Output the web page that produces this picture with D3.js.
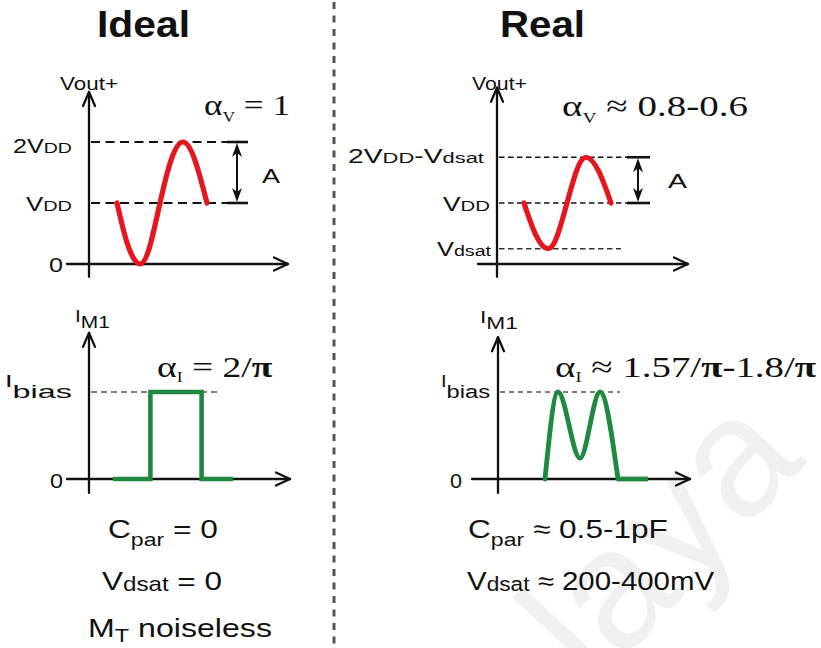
<!DOCTYPE html>
<html>
<head>
<meta charset="utf-8">
<script src="https://cdn.jsdelivr.net/npm/d3@7"></script>
<style>
  html, body { margin: 0; padding: 0; background: #fff; }
  svg text { white-space: pre; }
</style>
</head>
<body>
<svg id="chart" width="821" height="648"></svg>
<script>
// ---- data (voltages in units of VDD, Vdsat taken as 0.25 VDD; time in arbitrary units) ----
const idealVoutT = [1.4, 1.95, 2.55, 3.05, 3.55, 4.1, 4.7, 5.3, 5.9];
const idealVout  = [1, 0.3, 0, 0.3, 1, 1.7, 2, 1.7, 1];
const realVoutT  = [1.35, 1.95, 2.55, 3.02, 3.5, 3.98, 4.45, 5.07, 5.7];
const realVout   = [1, 0.47, 0.25, 0.47, 1, 1.53, 1.75, 1.53, 1];

// drain current of M1, in units of Ibias
const idealIT = [1.2, 3.07, 3.07, 5.63, 5.63, 7.2];
const idealI  = [0, 0, 1, 1, 0, 0];
const realIT  = [2.35, 3.0, 4.1, 5.1, 6.0];
const realI   = [0, 1, 0.24, 1, 0];
const realITailT = [6.0, 7.5];
const realITail  = [0, 0];

// tick values and labels
const idealVTicks  = [0, 1, 2];
const idealVLabels = ["0", "V_{DD}", "2V_{DD}"];
const realVTicks   = [0.25, 1, 1.75];
const realVLabels  = ["V_{dsat}", "V_{DD}", "2V_{DD}-V_{dsat}"];
const currentTicks  = [0, 1];
const idealILabels  = ["0", "I_{bias}"];
const realILabels   = ["0", "I_{bias}"];

// annotation texts
const titles = ["Ideal", "Real"];
const alphaV = ["α_{V} = 1", "α_{V} ≈ 0.8-0.6"];
const alphaI = ["α_{I} = 2/π", "α_{I} ≈ 1.57/π-1.8/π"];
const idealNotes = ["C_{par} = 0", "V_{dsat} = 0", "M_{T} noiseless"];
const realNotes  = ["C_{par} ≈ 0.5-1pF", "V_{dsat} ≈ 200-400mV"];

// ---- drawing ----
const SANS = "'Liberation Sans', Arial, Helvetica, sans-serif";
const SERIF = "'Liberation Serif', 'Times New Roman', serif";
const INK = "#111";
const RED = "#e5161d";
const GREEN = "#1f8a3f";

const svg = d3.select("#chart");

// faint watermark behind everything
svg.append("text")
  .attr("transform", "translate(595,690) rotate(-47)")
  .attr("font-family", SANS)
  .attr("font-size", 170)
  .attr("fill", "#f0f0f0")
  .text("laya");

// rich text: "_{...}" marks a smaller (optionally shifted) part; π is drawn bold.
// The label is fitted horizontally to width o.w.
function richText(parent, str, o) {
  const g = parent.append("g");
  const t = g.append("text")
    .attr("font-family", o.family || SANS)
    .attr("font-size", o.size)
    .attr("font-weight", o.weight || "normal")
    .attr("fill", o.fill || INK);
  const pieces = [];
  const re = /_\{([^}]*)\}/g;
  let last = 0, m;
  while ((m = re.exec(str))) {
    if (m.index > last) pieces.push({ t: str.slice(last, m.index), sub: false });
    pieces.push({ t: m[1], sub: true });
    last = re.lastIndex;
  }
  if (last < str.length) pieces.push({ t: str.slice(last), sub: false });
  let cur = 0;
  pieces.forEach(p => {
    p.t.split(/(π)/).filter(s => s.length).forEach(c => {
      const target = p.sub ? (o.subDy || 0) : 0;
      const ts = t.append("tspan").text(c).attr("dy", target - cur);
      cur = target;
      if (p.sub) ts.attr("font-size", o.subSize);
      if (c === "π") ts.attr("font-weight", "bold");
    });
  });
  const bb = t.node().getBBox();
  const s = o.w ? o.w / bb.width : 1;
  const w = bb.width * s;
  const x0 = o.anchor === "end" ? o.x - w : o.anchor === "middle" ? o.x - w / 2 : o.x;
  g.attr("transform", `translate(${x0 - bb.x * s},${o.y}) scale(${s},1)`);
  return g;
}

// plain axis pair with open arrow heads
function drawAxes(g, x, y, xDom, yDom) {
  const x0 = x(xDom[0]), x1 = x(xDom[1]);
  const y0 = y(yDom[0]), y1 = y(yDom[1]);
  const oy = y(0), ox = x(0);
  const ax = g.append("g").attr("stroke", INK).attr("stroke-width", 2.3)
    .attr("fill", "none").attr("stroke-linecap", "round").attr("stroke-linejoin", "round");
  ax.append("line").attr("x1", x0).attr("y1", oy).attr("x2", x1).attr("y2", oy);
  ax.append("line").attr("x1", ox).attr("y1", y0).attr("x2", ox).attr("y2", y1);
  ax.append("path").attr("d", `M${x1 - 14},${oy - 6.5}L${x1},${oy}L${x1 - 14},${oy + 6.5}`);
  ax.append("path").attr("d", `M${ox - 6},${y1 + 14}L${ox},${y1}L${ox + 6},${y1 + 14}`);
}

// double-headed amplitude marker with end bars
function drawAmplitude(g, xc, yTop, yBot, barL, barR) {
  const a = g.append("g").attr("stroke", INK);
  a.append("line").attr("x1", barL).attr("x2", barR).attr("y1", yTop).attr("y2", yTop).attr("stroke-width", 2.6);
  a.append("line").attr("x1", barL).attr("x2", barR).attr("y1", yBot).attr("y2", yBot).attr("stroke-width", 2.6);
  a.append("line").attr("x1", xc).attr("x2", xc).attr("y1", yTop + 4).attr("y2", yBot - 4).attr("stroke-width", 2);
  g.append("path").attr("fill", INK)
    .attr("d", `M${xc},${yTop + 1}L${xc - 5},${yTop + 15}L${xc},${yTop + 11}L${xc + 5},${yTop + 15}Z`);
  g.append("path").attr("fill", INK)
    .attr("d", `M${xc},${yBot - 1}L${xc - 5},${yBot - 15}L${xc},${yBot - 11}L${xc + 5},${yBot - 15}Z`);
}

const tickFmt = { size: 20, subSize: 15.5, subDy: 0 };

// ---------- top-left: ideal output voltage ----------
{
  const g = svg.append("g");
  const x = d3.scaleLinear().domain([0, 10]).range([89, 289]);
  const y = d3.scaleLinear().domain([0, 2]).range([264, 142]);
  drawAxes(g, x, y, [-1.1, 9.95], [-0.21, 2.82]);
  [1, 2].forEach(v => {
    g.append("line").attr("x1", x(0.1)).attr("x2", x(6.9)).attr("y1", y(v)).attr("y2", y(v))
      .attr("stroke", INK).attr("stroke-width", 1.8).attr("stroke-dasharray", "9,5.5");
  });
  drawAmplitude(g, x(7.4), y(2), y(1), x(6.9), x(7.95));
  g.append("path")
    .datum(d3.zip(idealVoutT, idealVout))
    .attr("fill", "none").attr("stroke", RED).attr("stroke-width", 5.2).attr("stroke-linecap", "round")
    .attr("d", d3.line().x(d => x(d[0])).y(d => y(d[1])).curve(d3.curveNatural));
  const ends = [63, 72, 72], widths = [14, 46, 59], offs = [8, 8, 11];
  idealVTicks.forEach((v, i) => richText(g, idealVLabels[i], Object.assign({ x: ends[i], y: y(v) + offs[i], anchor: "end", w: widths[i] }, tickFmt)));
  richText(g, "Vout+", { x: 60, y: 90, size: 18, w: 58 });
  richText(g, "A", { x: 262, y: 183, size: 21, w: 18 });
  richText(g, alphaV[0], { x: 204, y: 115, size: 30, subSize: 15, subDy: 7, family: SERIF, w: 86 });
}

// ---------- top-right: real output voltage ----------
{
  const g = svg.append("g");
  const x = d3.scaleLinear().domain([0, 10]).range([497, 697]);
  const y = d3.scaleLinear().domain([0, 2]).range([264, 142]);
  drawAxes(g, x, y, [-0.95, 9.55], [-0.21, 2.89]);
  [1, 1.75].forEach(v => {
    g.append("line").attr("x1", x(0.1)).attr("x2", x(6.5)).attr("y1", y(v)).attr("y2", y(v))
      .attr("stroke", INK).attr("stroke-width", 1.5).attr("stroke-dasharray", "5.5,3.5");
  });
  g.append("line").attr("x1", x(0.1)).attr("x2", x(6.2)).attr("y1", y(0.25)).attr("y2", y(0.25))
    .attr("stroke", "#333").attr("stroke-width", 1.3).attr("stroke-dasharray", "5.5,3.5");
  drawAmplitude(g, x(7.05), y(1.75), y(1), x(6.5), x(7.65));
  g.append("path")
    .datum(d3.zip(realVoutT, realVout))
    .attr("fill", "none").attr("stroke", RED).attr("stroke-width", 5.2).attr("stroke-linecap", "round")
    .attr("d", d3.line().x(d => x(d[0])).y(d => y(d[1])).curve(d3.curveNatural));
  const ends = [492, 490, 485], widths = [55, 47, 137], offs = [7, 8, 6];
  realVTicks.forEach((v, i) => richText(g, realVLabels[i], Object.assign({ x: ends[i], y: y(v) + offs[i], anchor: "end", w: widths[i] }, tickFmt)));
  richText(g, "Vout+", { x: 472, y: 90, size: 18, w: 55 });
  richText(g, "A", { x: 668, y: 188, size: 21, w: 19 });
  richText(g, alphaV[1], { x: 562, y: 116, size: 30, subSize: 15, subDy: 7, family: SERIF, w: 186 });
}

// ---------- bottom-left: ideal M1 current ----------
{
  const g = svg.append("g");
  const x = d3.scaleLinear().domain([0, 10]).range([89, 289]);
  const y = d3.scaleLinear().domain([0, 1]).range([479, 392]);
  drawAxes(g, x, y, [-1.1, 10.05], [-0.16, 1.68]);
  g.append("line").attr("x1", x(0.1)).attr("x2", x(6.4)).attr("y1", y(1)).attr("y2", y(1))
    .attr("stroke", "#555").attr("stroke-width", 1.3).attr("stroke-dasharray", "6,4");
  g.append("path")
    .datum(d3.zip(idealIT, idealI))
    .attr("fill", "none").attr("stroke", GREEN).attr("stroke-width", 4.6).attr("stroke-linejoin", "miter")
    .attr("d", d3.line().x(d => x(d[0])).y(d => y(d[1])));
  richText(g, idealILabels[0], { x: 63, y: y(0) + 9, anchor: "end", size: 20, w: 13 });
  richText(g, idealILabels[1], { x: 72, y: y(1) - 5, anchor: "end", size: 16, subSize: 19, subDy: 11, w: 67 });
  richText(g, "I_{M1}", { x: 75, y: 322, size: 16, subSize: 16, subDy: 6, w: 35 });
  richText(g, alphaI[0], { x: 157, y: 377, size: 30, subSize: 14, subDy: 5, family: SERIF, w: 116 });
}

// ---------- bottom-right: real M1 current ----------
{
  const g = svg.append("g");
  const x = d3.scaleLinear().domain([0, 10]).range([498, 698]);
  const y = d3.scaleLinear().domain([0, 1]).range([479, 392]);
  drawAxes(g, x, y, [-1.3, 9.6], [-0.16, 1.63]);
  g.append("line").attr("x1", x(0.1)).attr("x2", x(6.1)).attr("y1", y(1)).attr("y2", y(1))
    .attr("stroke", "#555").attr("stroke-width", 1.3).attr("stroke-dasharray", "5,4");
  g.append("path")
    .datum(d3.zip(realIT, realI))
    .attr("fill", "none").attr("stroke", GREEN).attr("stroke-width", 4.8).attr("stroke-linecap", "round")
    .attr("d", d3.line().x(d => x(d[0])).y(d => y(d[1])).curve(d3.curveMonotoneX));
  g.append("path")
    .datum(d3.zip(realITailT, realITail))
    .attr("fill", "none").attr("stroke", GREEN).attr("stroke-width", 4.8)
    .attr("d", d3.line().x(d => x(d[0])).y(d => y(d[1])));
  richText(g, realILabels[0], { x: 462, y: y(0) + 9, anchor: "end", size: 20, w: 12 });
  richText(g, realILabels[1], { x: 490, y: y(1) - 5, anchor: "end", size: 16, subSize: 19, subDy: 11, w: 49 });
  richText(g, "I_{M1}", { x: 480, y: 323, size: 16, subSize: 16, subDy: 6, w: 38 });
  richText(g, alphaI[1], { x: 555, y: 377, size: 30, subSize: 14, subDy: 5, family: SERIF, w: 262 });
}

// ---------- titles, divider and notes ----------
richText(svg, titles[0], { x: 97, y: 37, size: 37, weight: "bold", w: 93 });
richText(svg, titles[1], { x: 500, y: 37, size: 37, weight: "bold", w: 85 });

svg.append("line")
  .attr("x1", 334).attr("x2", 334).attr("y1", 2).attr("y2", 648)
  .attr("stroke", "#555").attr("stroke-width", 3).attr("stroke-dasharray", "7,6.5");

const noteL = [
  { y: 538, x: 108, w: 110, subDy: 8, subSize: 19 },
  { y: 590, x: 102, w: 120, subDy: 1, subSize: 20 },
  { y: 637, x: 88, w: 184, subDy: 5, subSize: 19 }
];
idealNotes.forEach((s, i) => richText(svg, s, Object.assign({ size: 26 }, noteL[i])));
const noteR = [
  { y: 538, x: 468, w: 200, subDy: 8, subSize: 19 },
  { y: 590, x: 467, w: 248, subDy: 1, subSize: 20 }
];
realNotes.forEach((s, i) => richText(svg, s, Object.assign({ size: 26 }, noteR[i])));
</script>
</body>
</html>
